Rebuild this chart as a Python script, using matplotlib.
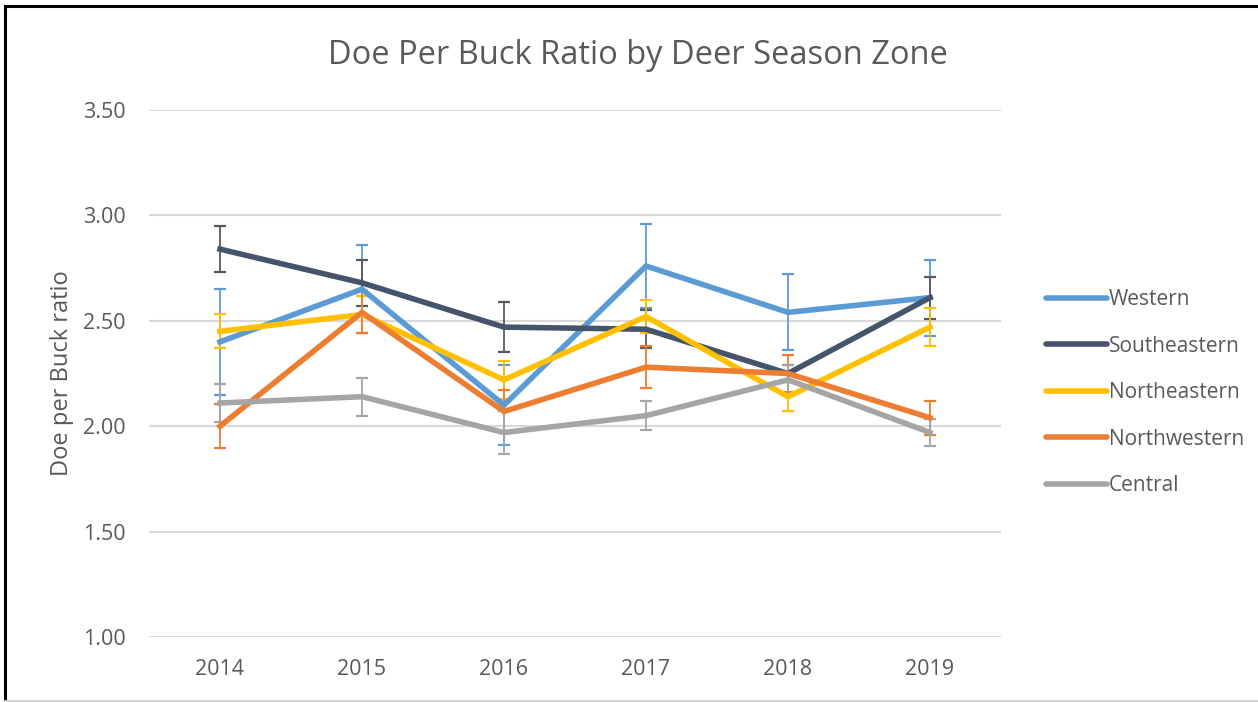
import matplotlib
matplotlib.use("Agg")
import matplotlib.pyplot as plt
from matplotlib.lines import Line2D

years = ["2014", "2015", "2016", "2017", "2018", "2019"]
series_names = ["Western", "Southeastern", "Northeastern", "Northwestern", "Central"]

western = [2.40, 2.65, 2.10, 2.76, 2.54, 2.61]
western_err = [0.25, 0.21, 0.19, 0.20, 0.18, 0.18]
southeastern = [2.84, 2.68, 2.47, 2.46, 2.25, 2.61]
southeastern_err = [0.11, 0.11, 0.12, 0.09, 0.04, 0.10]
northeastern = [2.45, 2.53, 2.22, 2.52, 2.14, 2.47]
northeastern_err = [0.08, 0.09, 0.09, 0.08, 0.07, 0.09]
northwestern = [2.00, 2.54, 2.07, 2.28, 2.25, 2.04]
northwestern_err = [0.105, 0.10, 0.10, 0.10, 0.09, 0.08]
central = [2.11, 2.14, 1.97, 2.05, 2.22, 1.97]
central_err = [0.09, 0.09, 0.10, 0.07, 0.07, 0.065]

values = [western, southeastern, northeastern, northwestern, central]
errors = [western_err, southeastern_err, northeastern_err, northwestern_err, central_err]
colors = ["#5B9BD5", "#44546A", "#FFC000", "#ED7D31", "#A5A5A5"]
err_colors = ["#5B9BD5", "#595959", "#FFC000", "#ED7D31", "#A5A5A5"]

yticks = [1.0, 1.5, 2.0, 2.5, 3.0, 3.5]

plt.rcParams['font.family'] = ['Open Sans', 'DejaVu Sans']

fig = plt.figure(figsize=(12.58, 7.02), dpi=100)
W, H = 1258, 702
ax = fig.add_axes([149 / W, (H - 637) / H, (1001 - 149) / W, (637 - 110) / H])

x = list(range(len(years)))
for vals, errs, c, ec, name in zip(values, errors, colors, err_colors, series_names):
    ax.errorbar(x, vals, yerr=errs, color=c, ecolor=ec, elinewidth=1.3,
                capsize=4.5, capthick=1.6, linewidth=4.0, label=name,
                solid_joinstyle='miter')

ax.set_xlim(-0.5, len(years) - 0.5)
ax.set_ylim(1.0, 3.5)
ax.set_yticks(yticks)
ax.set_yticklabels([f"{v:.2f}" for v in yticks])
ax.set_xticks(x)
ax.set_xticklabels(years)
ax.grid(axis='y', color='#D9D9D9', linewidth=1.5)
ax.set_axisbelow(True)
for s in ax.spines.values():
    s.set_visible(False)
ax.tick_params(axis='both', length=0, labelsize=15.5, colors='#595959')
ax.tick_params(axis='y', pad=17)
ax.tick_params(axis='x', pad=16)

ax.set_ylabel("Doe per Buck ratio", fontsize=17, color='#595959', labelpad=6)

fig.text(638 / W, 1 - 55 / H, "Doe Per Buck Ratio by Deer Season Zone",
         ha='center', va='center', fontsize=23.5, color='#595959')

handles = [Line2D([0], [0], color=c, linewidth=4.0, solid_capstyle='round') for c in colors]
leg = fig.legend(handles, series_names, loc='upper left',
                 bbox_to_anchor=(1038 / W, 1 - 281 / H), frameon=False,
                 fontsize=15, labelspacing=1.22, handlelength=2.9,
                 handletextpad=0.1, borderaxespad=0)
for t in leg.get_texts():
    t.set_color('#595959')

# outer frame
fig.add_artist(Line2D([5 / W, 5 / W], [0, 1 - 6 / H], color='black', linewidth=2.2,
                      transform=fig.transFigure))
fig.add_artist(Line2D([5 / W, 1], [1 - 6 / H, 1 - 6 / H], color='black', linewidth=2.2,
                      transform=fig.transFigure))
fig.add_artist(Line2D([5 / W, 1], [1 / H, 1 / H], color='#D0D0D0', linewidth=2,
                      transform=fig.transFigure))

fig.savefig("out.png", dpi=100)
